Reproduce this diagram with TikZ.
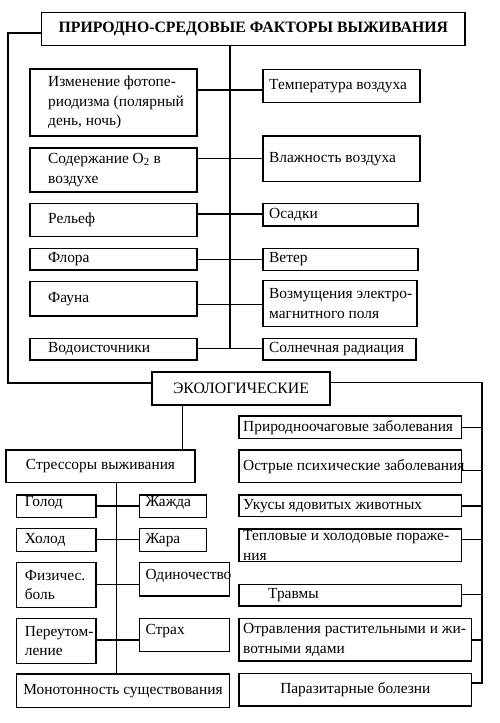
\documentclass[tikz,border=0pt]{standalone}
\usepackage{fontspec}
\setmainfont{Liberation Serif}
\newcommand\bxl[8][]{%
  \node[box, anchor=north west, minimum width={#5-#3}, minimum height={#6-#4}] (#2) at (#3,#4) {};
  \node[txt, anchor=west, #1] (#2t) at ([xshift=#7pt]#2.west) {#8};}
\newcommand\bxc[6]{%
  \node[box, anchor=north west, minimum width={#4-#2}, minimum height={#5-#3}] (#1) at (#2,#3) {};
  \node[txt, anchor=center] (#1t) at (#1.center) {#6};}
\begin{document}
\begin{tikzpicture}[x=1pt,y=-1pt,
  box/.style={draw, line width=1.3pt, inner sep=0pt, outer sep=0pt},
  txt/.style={inner sep=0pt, align=left, font=\fontsize{15.4}{19.5}\selectfont},
  up/.style={yshift=3.5pt},
  link/.style={line width=1.1pt}]
\useasboundingbox (0,0) rectangle (500,723);
% title
\node[box, anchor=north west, minimum width=423.5, minimum height=33] (t) at (41.5,12.5) {};
\node[txt, font=\bfseries\fontsize{15.8}{19}\selectfont] (tt) at (t.center) {ПРИРОДНО-СРЕДОВЫЕ ФАКТОРЫ ВЫЖИВАНИЯ};
% left column
\bxl{l1}{30}{69}{197}{136}{18}{Изменение фотопе-\\риодизма (полярный\\день, ночь)}
\bxl{l2}{30}{148}{197}{192}{18}{Содержание O\textsubscript{2} в\\воздухе}
\bxl{l3}{30}{203.5}{197}{236.5}{18}{Рельеф}
\bxl{l4}{30}{248.5}{197}{270}{18}{Флора}
\bxl{l5}{30}{281.5}{197}{316}{18}{Фауна}
\bxl{l6}{30}{338.5}{197}{360}{18}{Водоисточники}
% right column
\bxl{r1}{263}{69.5}{420}{102.5}{6}{Температура воздуха}
\bxl{r2}{263}{136}{420}{181.5}{6}{Влажность воздуха}
\bxl{r3}{263}{203.5}{418}{226}{6}{Осадки}
\bxl{r4}{263}{248.5}{418}{270.5}{6}{Ветер}
\bxl{r5}{263}{280.5}{417}{326.5}{6}{Возмущения электро-\\магнитного поля}
\bxl{r6}{263}{338.5}{416}{360}{6}{Солнечная радиация}
% spine
\coordinate (sp) at (230,348.3);
\draw[link] (t.south -| sp) -- (sp);
\foreach \n/\y in {1/90,2/158.7,3/214,4/259.3,5/304.3,6/348.3}{
  \coordinate (c\n) at (230,\y);
  \draw[link] (l\n.east |- c\n) -- (r\n.west |- c\n);}
% ecological
\node[box, anchor=north west, minimum width=178, minimum height=33] (eco) at (152,372) {};
\node[txt, font=\fontsize{15.8}{19}\selectfont] (ecot) at (eco.center) {ЭКОЛОГИЧЕСКИЕ};
\coordinate (ol1) at (8,33);
\coordinate (ol2) at (8,383);
\draw[link] (t.west |- ol1) -- (ol1) -- (ol2) -- (eco.west |- ol2);
% right lower column
\bxl{a}{239}{416}{461.7}{438.3}{4}{Природноочаговые заболевания}
\bxl{b}{239}{450}{461.7}{482.7}{4}{Острые психические заболевания}
\bxl{c}{239}{495}{461.7}{516.7}{4}{Укусы ядовитых животных}
\bxl{d}{239}{529}{461.7}{561.7}{4}{Тепловые и холодовые пораже-\\ния}
\bxl{e}{239}{584.3}{461.7}{606}{29}{Травмы}
\bxl{f}{239}{618.3}{471.7}{661}{4}{Отравления растительными и жи-\\вотными ядами}
\bxc{g}{239}{673.3}{471.7}{706}{Паразитарные болезни}
\coordinate (or1) at (482,382.7);
\coordinate (or2) at (482,683);
\draw[link] (eco.east |- or1) -- (or1) -- (or2) -- (g.east |- or2);
\foreach \n/\y in {a/427.7,b/470.7,c/506,d/539.3,e/594.3,f/640}{
  \coordinate (k\n) at (482,\y);
  \draw[link] (\n.east |- k\n) -- (k\n);}
% stressors
\bxc{str}{6}{450}{195}{482.7}{Стрессоры выживания}
\coordinate (es) at (182.7,430);
\draw[link] (eco.south -| es) -- (str.north -| es);
\bxl[up]{s1}{16.7}{495}{96}{517.3}{8}{Голод}
\bxl{s2}{16.7}{528.3}{96}{551.7}{8}{Холод}
\bxl{s3}{16.7}{562.7}{96}{607.3}{8}{Физичес.\\боль}
\bxl{s4}{16.7}{618.3}{96}{663.3}{8}{Переутом-\\ление}
\bxl[up]{z1}{139.3}{495}{206.7}{517.3}{6}{Жажда}
\bxl{z2}{139.3}{528.3}{206.7}{551.7}{6}{Жара}
\bxl[up]{z3}{139.3}{562.7}{229.3}{596}{6}{Одиночество}
\bxl[up]{z4}{139.3}{618.3}{229.3}{651.7}{6}{Страх}
\bxc{mono}{16.7}{674}{229.3}{707.3}{Монотонность существования}
\coordinate (sv) at (116.7,674);
\draw[link] (str.south -| sv) -- (mono.north -| sv);
\foreach \n/\y in {1/506,2/539.3,3/584.3,4/640}{
  \coordinate (q\n) at (116.7,\y);
  \draw[link] (s\n.east |- q\n) -- (z\n.west |- q\n);}
\end{tikzpicture}
\end{document}
